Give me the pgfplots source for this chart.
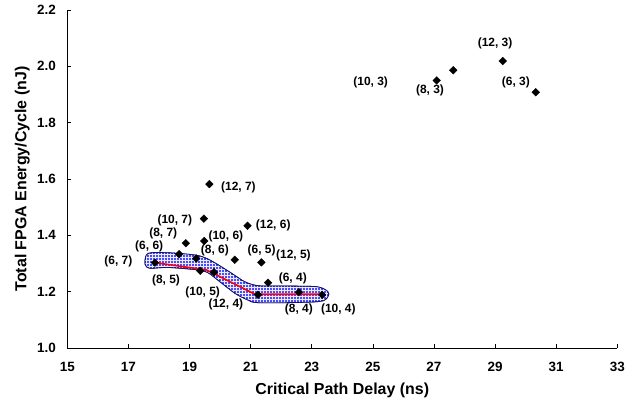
\documentclass[border=0pt]{standalone}
\usepackage{pgfplots}
\pgfplotsset{compat=1.18}
\usepackage{fontspec}
\setmainfont{Liberation Sans}
\usetikzlibrary{patterns}

\definecolor{bandblue}{RGB}{75,75,250}
\definecolor{bandedge}{RGB}{20,20,110}
\definecolor{gridwhite}{RGB}{235,235,255}

\pgfplotstableread{
x y
17.87 1.303
18.66 1.333
18.88 1.372
19.47 1.459
19.65 1.582
19.48 1.380
20.90 1.434
19.22 1.318
20.48 1.313
21.35 1.304
21.57 1.232
19.35 1.274
19.80 1.269
21.24 1.189
22.58 1.198
23.34 1.189
27.09 1.950
27.63 1.986
29.25 2.019
30.33 1.908
}\pointsdata

\pgfplotstableread{
x y
17.54 1.306
17.65 1.336
18.31 1.338
19.18 1.330
19.56 1.318
19.94 1.295
20.38 1.265
20.81 1.235
21.25 1.221
22.12 1.220
23.11 1.218
23.43 1.208
23.56 1.192
23.38 1.168
22.67 1.162
21.25 1.161
20.92 1.170
20.49 1.194
20.00 1.235
19.61 1.267
19.29 1.277
18.31 1.286
17.71 1.283
17.58 1.291
}\banddata

\pgfplotstableread{
x y
17.87 1.303
19.56 1.277
21.14 1.191
23.36 1.191
}\reddata

\begin{document}
\begin{tikzpicture}
\begin{axis}[
  scale only axis, width=550bp, height=338bp,
  xmin=15, xmax=33, ymin=1.0, ymax=2.2,
  axis lines=left,
  axis line style={-, black, line width=0.8bp},
  tick align=inside, major tick length=4bp,
  tick style={black, line width=0.6bp},
  xtick={15,17,...,33}, ytick={1.0,1.2,...,2.2},
  /pgf/number format/assume math mode=true,
  xticklabel={\bfseries\pgfmathprintnumber{\tick}},
  yticklabel={\bfseries\pgfmathprintnumber[fixed,fixed zerofill,precision=1]{\tick}},
  tick label style={font=\bfseries\fontsize{13.5}{15}\selectfont},
  x tick label style={yshift=-11bp},
  y tick label style={xshift=-8bp},
  xlabel={Critical Path Delay (ns)},
  ylabel={Total FPGA Energy/Cycle (nJ)},
  label style={font=\bfseries\fontsize{16}{19}\selectfont},
  xlabel style={at={(axis description cs:0.5,-0.124)}, anchor=center},
  ylabel style={at={(axis description cs:-0.0818,0.5)}, anchor=center},
  clip=false,
]
\addplot[draw=bandedge, line width=0.8bp, fill=bandblue,
  postaction={pattern=grid, pattern color=gridwhite},
  smooth cycle, tension=0.5] table {\banddata};
\addplot[red, line width=1.6bp] table {\reddata};
\addplot[only marks, mark=square*, mark size=2.7bp, mark options={rotate=45, fill=black, draw=black}] table {\pointsdata};

\begin{scope}[font=\bfseries\fontsize{12}{14}\selectfont]
\node at (axis cs:20.60,1.570) {(12, 7)};
\node at (axis cs:18.52,1.454) {(10, 7)};
\node at (axis cs:21.74,1.434) {(12, 6)};
\node at (axis cs:18.14,1.407) {(8, 7)};
\node at (axis cs:20.19,1.395) {(10, 6)};
\node at (axis cs:17.68,1.360) {(6, 6)};
\node at (axis cs:19.83,1.345) {(8, 6)};
\node at (axis cs:21.36,1.348) {(6, 5)};
\node at (axis cs:22.40,1.328) {(12, 5)};
\node at (axis cs:16.67,1.306) {(6, 7)};
\node at (axis cs:18.23,1.241) {(8, 5)};
\node at (axis cs:19.43,1.196) {(10, 5)};
\node at (axis cs:20.19,1.153) {(12, 4)};
\node at (axis cs:22.38,1.247) {(6, 4)};
\node at (axis cs:22.58,1.137) {(8, 4)};
\node at (axis cs:23.87,1.137) {(10, 4)};
\node at (axis cs:24.93,1.943) {(10, 3)};
\node at (axis cs:26.87,1.913) {(8, 3)};
\node at (axis cs:29.00,2.082) {(12, 3)};
\node at (axis cs:29.68,1.943) {(6, 3)};
\end{scope}
\end{axis}
\pgfresetboundingbox
\path ([xshift=-67.3bp,yshift=-50bp]current axis.south west) rectangle ([xshift=23.7bp,yshift=10bp]current axis.north east);
\end{tikzpicture}
\end{document}
